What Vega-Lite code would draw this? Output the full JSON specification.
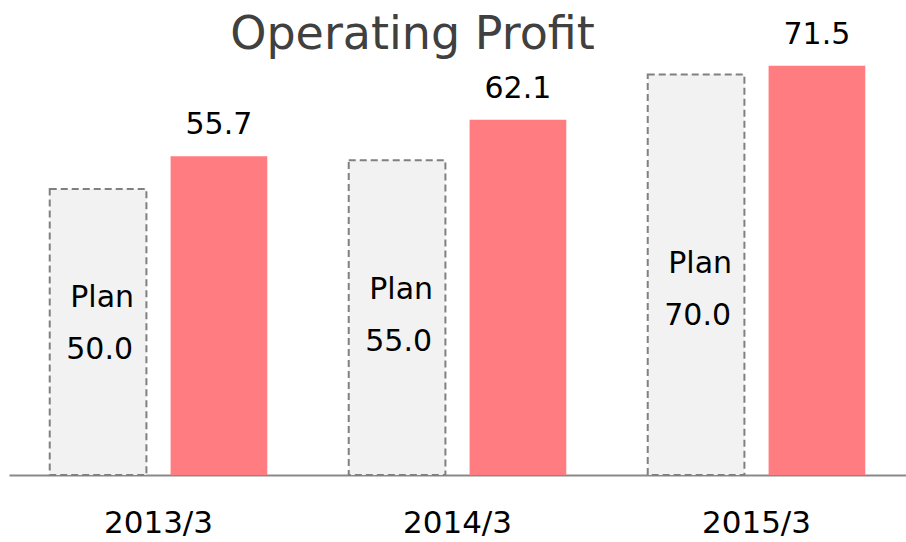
{
  "$schema": "https://vega.github.io/schema/vega-lite/v6.json",
  "width": 897,
  "height": 420,
  "autosize": {"type": "none"},
  "padding": {"left": 9, "top": 55, "right": 0, "bottom": 67},
  "background": "white",
  "config": {"view": {"stroke": null}, "font": "DejaVu Sans"},
  "title": {
    "text": "Operating Profit",
    "font": "DejaVu Sans",
    "fontSize": 46,
    "fontWeight": "normal",
    "color": "#404040",
    "anchor": "middle",
    "frame": "group",
    "baseline": "alphabetic",
    "offset": 8,
    "dx": -45,
    "dy": 83
  },
  "data": {
    "values": [
      {"year": "2013/3", "series": "Plan", "value": 50.0},
      {"year": "2013/3", "series": "Actual", "value": 55.7},
      {"year": "2014/3", "series": "Plan", "value": 55.0},
      {"year": "2014/3", "series": "Actual", "value": 62.1},
      {"year": "2015/3", "series": "Plan", "value": 70.0},
      {"year": "2015/3", "series": "Actual", "value": 71.5}
    ]
  },
  "encoding": {
    "x": {
      "field": "year",
      "type": "nominal",
      "sort": null,
      "scale": {"paddingInner": 0, "paddingOuter": 0},
      "axis": {
        "title": null,
        "ticks": false,
        "domainColor": "#898989",
        "domainWidth": 2,
        "labelAngle": 0,
        "labelFont": "DejaVu Sans",
        "labelFontSize": 31,
        "labelColor": "#000000",
        "labelBaseline": "alphabetic",
        "labelPadding": 57
      }
    },
    "xOffset": {
      "field": "series",
      "type": "nominal",
      "scale": {"domain": ["Plan", "Actual"], "paddingInner": 0.2, "paddingOuter": 0.337}
    }
  },
  "layer": [
    {
      "transform": [{"filter": "datum.series === 'Plan'"}],
      "mark": {"type": "bar", "fill": "#F2F2F2", "stroke": "#808080", "strokeWidth": 2, "strokeDash": [7, 4]},
      "encoding": {
        "y": {"field": "value", "type": "quantitative", "scale": {"domain": [0, 73.4], "nice": false, "zero": true}, "axis": null}
      }
    },
    {
      "transform": [{"filter": "datum.series === 'Actual'"}],
      "mark": {"type": "bar", "fill": "#FF7C80"},
      "encoding": {
        "y": {"field": "value", "type": "quantitative", "scale": {"domain": [0, 73.4], "nice": false, "zero": true}, "axis": null}
      }
    },
    {
      "transform": [{"filter": "datum.series === 'Actual'"}],
      "mark": {"type": "text", "fontSize": 30, "font": "DejaVu Sans", "color": "#000000", "baseline": "alphabetic", "dy": -22},
      "encoding": {
        "y": {"field": "value", "type": "quantitative", "scale": {"domain": [0, 73.4], "nice": false}, "axis": null},
        "text": {"field": "value", "type": "quantitative", "format": ".1f"}
      }
    },
    {
      "transform": [{"filter": "datum.series === 'Plan'"}, {"calculate": "datum.value * 0.3", "as": "pos"}],
      "mark": {"type": "text", "fontSize": 30, "font": "DejaVu Sans", "color": "#000000", "baseline": "middle", "align": "right", "dx": 36, "dy": -91},
      "encoding": {
        "y": {"field": "pos", "type": "quantitative", "scale": {"domain": [0, 73.4], "nice": false}, "axis": null},
        "text": {"value": "Plan"}
      }
    },
    {
      "transform": [{"filter": "datum.series === 'Plan'"}, {"calculate": "datum.value * 0.3", "as": "pos"}],
      "mark": {"type": "text", "fontSize": 30, "font": "DejaVu Sans", "color": "#000000", "baseline": "middle", "align": "right", "dx": 35, "dy": -39},
      "encoding": {
        "y": {"field": "pos", "type": "quantitative", "scale": {"domain": [0, 73.4], "nice": false}, "axis": null},
        "text": {"field": "value", "type": "quantitative", "format": ".1f"}
      }
    }
  ]
}
